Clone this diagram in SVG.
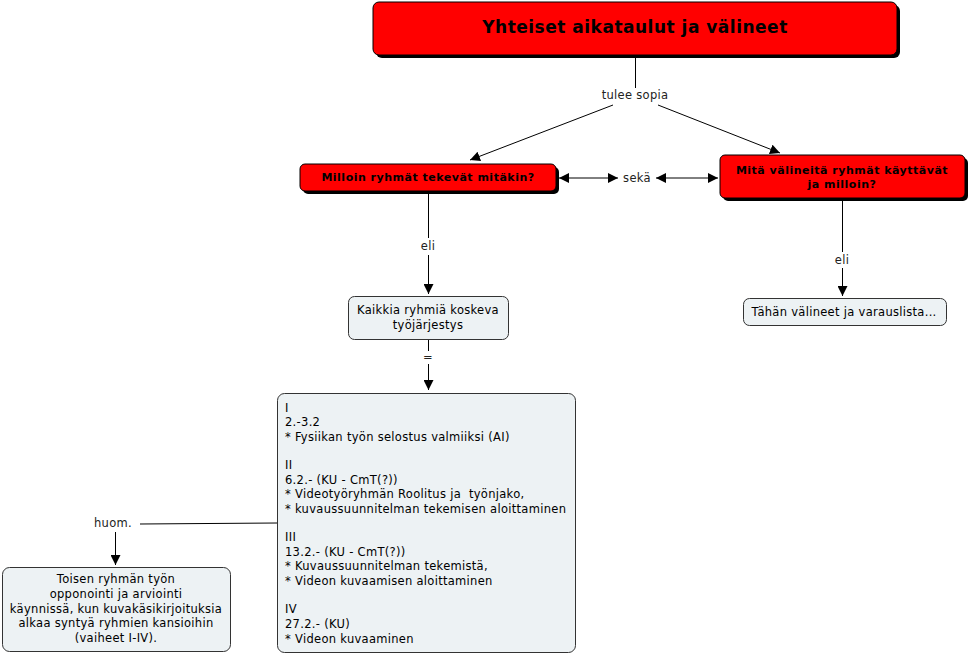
<svg xmlns="http://www.w3.org/2000/svg" width="971" height="654" viewBox="0 0 971 654">
<defs>
<marker id="ah" viewBox="0 0 10 10" refX="10" refY="5" markerWidth="10" markerHeight="10" markerUnits="userSpaceOnUse" orient="auto-start-reverse"><path d="M0,0 L10,5 L0,10 z" fill="#000"/></marker>
<style>
text{font-family:"DejaVu Sans","Verdana",sans-serif;font-size:11.5px;letter-spacing:0.3px;fill:#000}
.c{text-anchor:middle}
.b{font-weight:bold;font-size:11px;letter-spacing:0.5px}
.red{fill:#FF0000;stroke:#000;stroke-width:1}
.sh{fill:#000}
.lt{fill:#EDF2F4;stroke:#333;stroke-width:1}
.ln{stroke:#000;stroke-width:1;fill:none}
.lbl{fill:#222}
</style>
</defs>
<rect width="971" height="654" fill="#fff"/>
<g id="connectors">
<line class="ln" x1="635.5" y1="55" x2="635.5" y2="88"/>
<line class="ln" x1="613" y1="105" x2="470" y2="160" marker-end="url(#ah)"/>
<line class="ln" x1="658" y1="105" x2="780" y2="153" marker-end="url(#ah)"/>
<line class="ln" x1="559" y1="178" x2="618" y2="178" marker-start="url(#ah)" marker-end="url(#ah)"/>
<line class="ln" x1="656" y1="178" x2="718" y2="178" marker-start="url(#ah)" marker-end="url(#ah)"/>
<line class="ln" x1="428.5" y1="193" x2="428.5" y2="238"/>
<line class="ln" x1="428.5" y1="255" x2="428.5" y2="294" marker-end="url(#ah)"/>
<line class="ln" x1="842.5" y1="201" x2="842.5" y2="252"/>
<line class="ln" x1="842.5" y1="268" x2="842.5" y2="296" marker-end="url(#ah)"/>
<line class="ln" x1="428.5" y1="340" x2="428.5" y2="351"/>
<line class="ln" x1="428.5" y1="364" x2="428.5" y2="390" marker-end="url(#ah)"/>
<line class="ln" x1="277" y1="523" x2="140" y2="524"/>
<line class="ln" x1="115.5" y1="532" x2="115.5" y2="565" marker-end="url(#ah)"/>
<text class="c lbl" x="635" y="99">tulee sopia</text>
<text class="c lbl" x="637" y="182">sekä</text>
<text class="c lbl" x="428" y="250">eli</text>
<text class="c lbl" x="842" y="264">eli</text>
<text class="c lbl" x="428" y="361">=</text>
<text class="c lbl" x="113" y="527">huom.</text>
</g>
<g id="n-top">
<rect class="sh" x="376" y="5" width="524" height="53" rx="6"/>
<rect class="red" x="373" y="2" width="524" height="53" rx="6"/>
<text class="c b" x="635" y="33" style="font-size:17px;letter-spacing:0.5px">Yhteiset aikataulut ja välineet</text>
</g>
<g id="n-milloin">
<rect class="sh" x="303" y="167" width="256" height="27" rx="5"/>
<rect class="red" x="300" y="164" width="256" height="27" rx="5"/>
<text class="c b" x="428" y="181">Milloin ryhmät tekevät mitäkin?</text>
</g>
<g id="n-valineet">
<rect class="sh" x="723" y="158" width="245" height="43" rx="5"/>
<rect class="red" x="720" y="155" width="245" height="43" rx="5"/>
<text class="c b" x="842" y="174">Mitä välineitä ryhmät käyttävät</text>
<text class="c b" x="842" y="188">ja milloin?</text>
</g>
<g id="n-kaikkia">
<rect class="lt" x="348.5" y="296.5" width="160" height="43" rx="6"/>
<text class="c" x="428" y="314">Kaikkia ryhmiä koskeva</text>
<text class="c" x="428" y="329">työjärjestys</text>
</g>
<g id="n-tahan">
<rect class="lt" x="743.5" y="298.5" width="203" height="27" rx="6"/>
<text class="c" x="844" y="316">Tähän välineet ja varauslista...</text>
</g>
<g id="n-aikataulu">
<rect class="lt" x="277.5" y="393.5" width="298" height="259" rx="7"/>
<text x="285" y="412">I</text>
<text x="285" y="426">2.-3.2</text>
<text x="285" y="441">* Fysiikan työn selostus valmiiksi (AI)</text>
<text x="285" y="469">II</text>
<text x="285" y="484">6.2.- (KU - CmT(?))</text>
<text x="285" y="498" xml:space="preserve">* Videotyöryhmän Roolitus ja  työnjako,</text>
<text x="285" y="513">* kuvaussuunnitelman tekemisen aloittaminen</text>
<text x="285" y="541">III</text>
<text x="285" y="556">13.2.- (KU - CmT(?))</text>
<text x="285" y="570">* Kuvaussuunnitelman tekemistä,</text>
<text x="285" y="585">* Videon kuvaamisen aloittaminen</text>
<text x="285" y="613">IV</text>
<text x="285" y="628">27.2.- (KU)</text>
<text x="285" y="643">* Videon kuvaaminen</text>
</g>
<g id="n-toisen">
<rect class="lt" x="2.5" y="567.5" width="228" height="84" rx="7"/>
<text class="c" x="116" y="583">Toisen ryhmän työn</text>
<text class="c" x="116" y="598">opponointi ja arviointi</text>
<text class="c" x="116" y="613">käynnissä, kun kuvakäsikirjoituksia</text>
<text class="c" x="116" y="627">alkaa syntyä ryhmien kansioihin</text>
<text class="c" x="116" y="642">(vaiheet I-IV).</text>
</g>
</svg>
